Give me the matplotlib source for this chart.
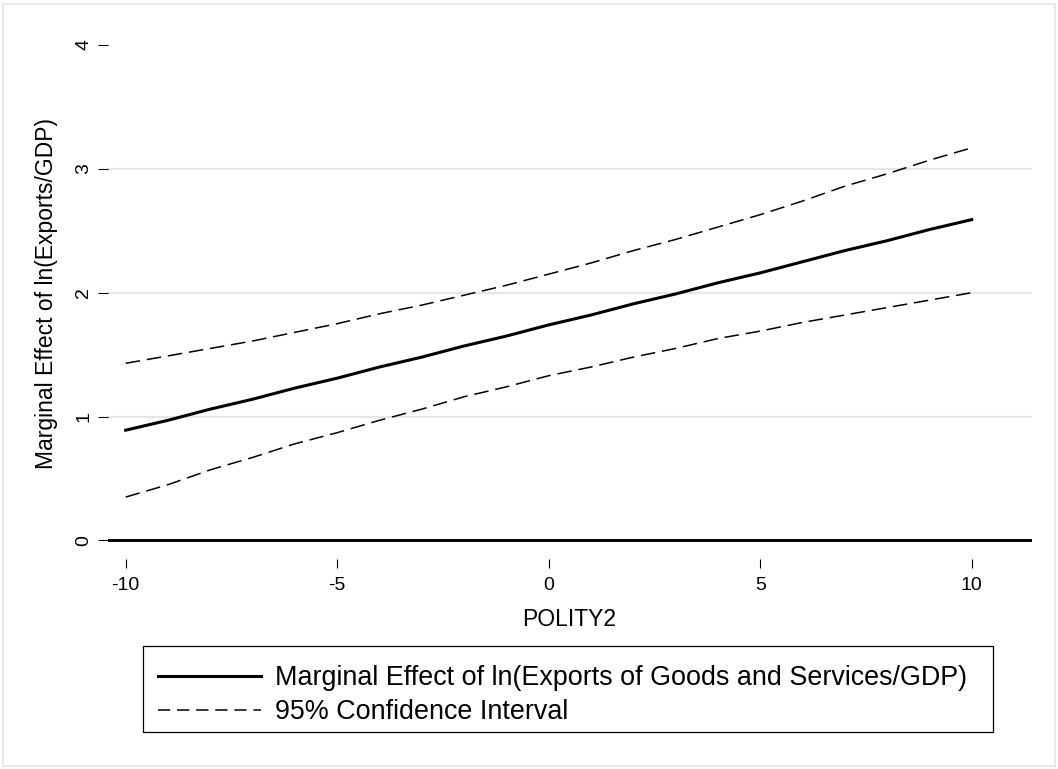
import matplotlib
matplotlib.use("Agg")
import matplotlib.pyplot as plt
from matplotlib.lines import Line2D
from matplotlib.patches import Rectangle

plt.rcParams["font.family"] = ["Liberation Sans", "DejaVu Sans"]

# Marginal effect of ln(Exports/GDP) across POLITY2 with its 95% CI
polity = [-10, -9, -8, -7, -6, -5, -4, -3, -2, -1, 0,
          1, 2, 3, 4, 5, 6, 7, 8, 9, 10]
effect = [0.89, 0.97, 1.06, 1.14, 1.23, 1.31, 1.40, 1.48, 1.57, 1.65, 1.74,
          1.82, 1.91, 1.99, 2.08, 2.16, 2.25, 2.34, 2.42, 2.51, 2.59]
ci_upper = [1.43, 1.49, 1.55, 1.61, 1.68, 1.75, 1.83, 1.90, 1.98, 2.06, 2.15,
            2.24, 2.34, 2.43, 2.53, 2.63, 2.74, 2.86, 2.96, 3.07, 3.17]
ci_lower = [0.35, 0.45, 0.57, 0.67, 0.78, 0.87, 0.97, 1.06, 1.16, 1.24, 1.33,
            1.40, 1.48, 1.55, 1.63, 1.69, 1.76, 1.82, 1.88, 1.94, 2.00]

x_ticks = [-10, -5, 0, 5, 10]
y_ticks = [0, 1, 2, 3, 4]
grid_levels = [1, 2, 3]

legend_labels = ["Marginal Effect of ln(Exports of Goods and Services/GDP)",
                 "95% Confidence Interval"]

W, H = 1058, 769
fig = plt.figure(figsize=(W / 100, H / 100), dpi=100)
fig.patch.set_facecolor("white")

# light outer frame around the whole graph
fig.patches.append(Rectangle((3 / W, 3 / H), 1052 / W, 762 / H,
                             transform=fig.transFigure, fill=False,
                             edgecolor="#e8e8e8", linewidth=1.3))

ax_left, ax_right = 108, 1032
ax_top, ax_bottom = 45, 559
ax = fig.add_axes([ax_left / W, 1 - ax_bottom / H,
                   (ax_right - ax_left) / W, (ax_bottom - ax_top) / H])
ax.set_xlim(-10.418, 11.425)
ax.set_ylim(-0.150, 4.0)
for s in ax.spines.values():
    s.set_visible(False)

for g in grid_levels:
    ax.axhline(g, color="#e6e6e6", linewidth=1.6, zorder=1)
ax.axhline(0, color="black", linewidth=2.1, zorder=2)

dash = (0, (9.5, 4.5))
ax.plot(polity, ci_upper, color="black", linewidth=1.1, linestyle=dash, zorder=3)
ax.plot(polity, ci_lower, color="black", linewidth=1.1, linestyle=dash, zorder=3)
ax.plot(polity, effect, color="black", linewidth=2.2, zorder=4)

ax.set_xticks(x_ticks)
ax.set_xticklabels([str(v) for v in x_ticks])
ax.set_yticks(y_ticks)
ax.set_yticklabels([str(v) for v in y_ticks], rotation=90, va="center")
ax.tick_params(axis="x", length=6.5, width=0.8, pad=6.5, labelsize=14,
               direction="out", colors="black")
ax.tick_params(axis="y", length=7.3, width=0.8, pad=4.0, labelsize=14,
               direction="out", colors="black")

fig.text(569 / W, 1 - 619 / H, "POLITY2", ha="center", va="center",
         fontsize=16.5)
fig.text(47 / W, 1 - 293 / H, "Marginal Effect of ln(Exports/GDP)",
         ha="center", va="center", rotation=90, fontsize=16.5)

# legend box drawn separately so the entries can sit freely inside it
fig.patches.append(Rectangle((143 / W, 1 - 732 / H), 850 / W, 86 / H,
                             transform=fig.transFigure, fill=False,
                             edgecolor="black", linewidth=0.9))

handles = [Line2D([], [], color="black", linewidth=2.2),
           Line2D([], [], color="black", linewidth=1.1, linestyle=(0, (8, 4.5)))]
leg = ax.legend(handles, legend_labels,
                loc="upper left",
                bbox_to_anchor=(146 / W, 1 - 653 / H),
                bbox_transform=fig.transFigure,
                borderaxespad=0, frameon=False,
                fontsize=19.4, handlelength=3.8, handletextpad=0.55,
                labelspacing=0.3, borderpad=0.45)

fig.savefig("out.png", dpi=100)
